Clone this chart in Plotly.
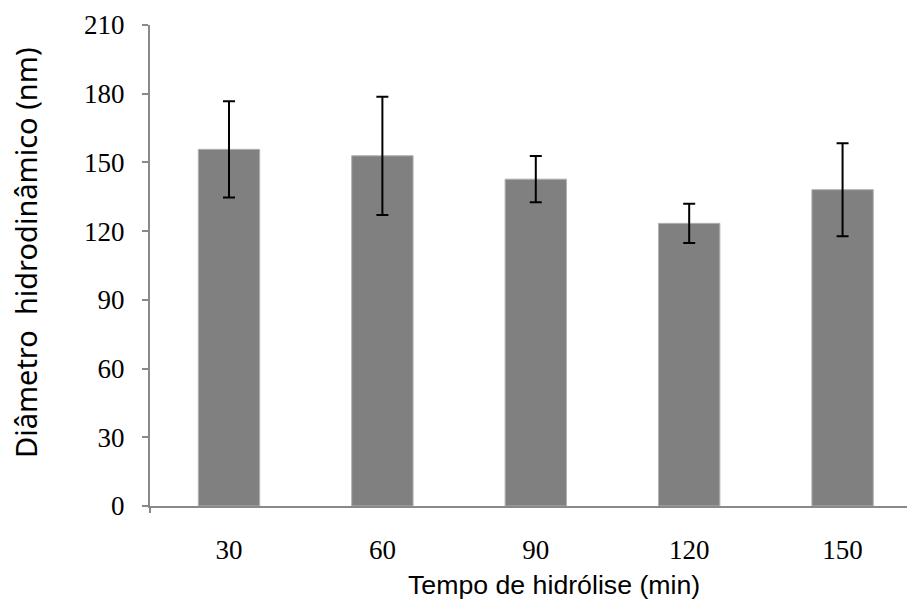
import plotly.graph_objects as go

# Hydrodynamic diameter (nm) by hydrolysis time (min)
tempos = ["30", "60", "90", "120", "150"]
diametro = [155.7, 152.9, 142.7, 123.4, 138.1]
desvio = [21.0, 25.8, 10.1, 8.6, 20.3]
y_ticks = [0, 30, 60, 90, 120, 150, 180, 210]

AXIS_GRAY = "#898989"
W, H = 907, 610
L, R, T, B = 150, 0, 25, 104

fig = go.Figure()
fig.add_trace(go.Bar(
    x=tempos,
    y=diametro,
    width=0.4,
    marker=dict(color="#808080", line=dict(color="#b0b0b0", width=1)),
    error_y=dict(type="data", array=desvio, visible=True,
                 color="black", thickness=2, width=6),
    showlegend=False,
))

plot_w = W - L - R
plot_h = H - T - B

def px_x(p):
    return (p - L) / plot_w

def px_y(p):
    return (H - B - p) / plot_h

tick_font = dict(family="Liberation Serif", size=27, color="black")

fig.update_layout(
    width=W, height=H,
    margin=dict(l=L, r=R, t=T, b=B),
    plot_bgcolor="white", paper_bgcolor="white",
    xaxis=dict(
        type="category",
        range=[-0.515, 4.42],
        showgrid=False, zeroline=False,
        showline=True, linecolor=AXIS_GRAY, linewidth=2,
        ticks="",
        tickfont=tick_font,
        ticklabelstandoff=19,
    ),
    yaxis=dict(
        range=[0, 210],
        tickvals=y_ticks,
        showgrid=False, zeroline=False,
        showline=True, linecolor=AXIS_GRAY, linewidth=2,
        ticks="outside", ticklen=6, tickcolor=AXIS_GRAY, tickwidth=2,
        tickfont=tick_font,
        ticklabelstandoff=12,
    ),
    annotations=[
        dict(text="Tempo de hidrólise (min)", xref="paper", yref="paper",
             x=px_x(554), y=px_y(585), xanchor="center", yanchor="middle",
             showarrow=False,
             font=dict(family="Liberation Sans", size=26.7, color="black")),
        dict(text="Diâmetro  hidrodinâmico (nm)", xref="paper", yref="paper",
             x=px_x(25), y=px_y(253), xanchor="center", yanchor="middle",
             textangle=-90, showarrow=False,
             font=dict(family="Noto Sans", size=29, color="black")),
    ],
    shapes=[
        # short tick below the origin where the two axes meet
        dict(type="line", xref="paper", yref="paper",
             x0=0, x1=0, y0=0, y1=px_y(513),
             line=dict(color=AXIS_GRAY, width=2)),
    ],
)

fig.write_html("out.html")
